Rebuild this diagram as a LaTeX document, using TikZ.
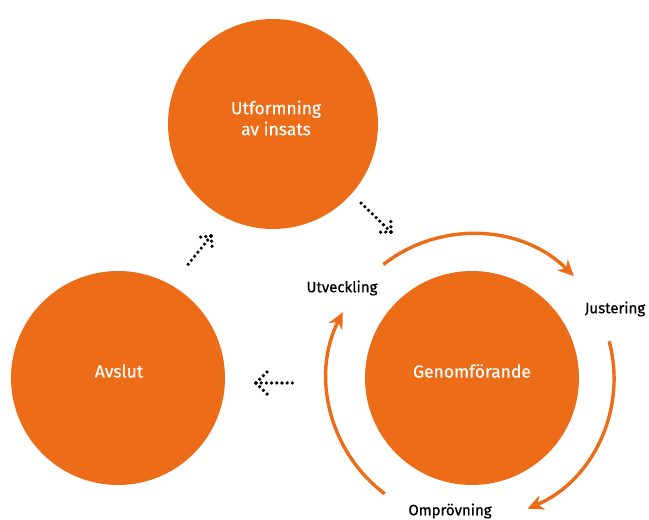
\documentclass[tikz,border=0pt]{standalone}
\usepackage{fontspec}
\setmainfont{Fira Sans}
\newfontfamily\labelfont{Fira Sans}[FakeBold=0.7]
\newfontfamily\phasefont{Fira Sans}[FakeBold=0.4]
\usetikzlibrary{arrows.meta,calc}
\definecolor{phase}{RGB}{236,108,23}
\begin{document}
\begin{tikzpicture}[x=1pt,y=1pt,
  phasecircle/.style={circle,fill=phase,draw=none,minimum size=#1,inner sep=0pt},
  phasetext/.style={text=white,font=\phasefont\fontsize{17.5}{21}\selectfont,align=center},
  steplabel/.style={text=black,font=\labelfont\fontsize{15}{17}\selectfont},
  cyc/.style={draw=phase,line width=3.4pt,-{Stealth[length=16pt,width=15pt,inset=5pt]}},
  dots/.style={draw=black,line width=3.6pt,line cap=round,dash pattern=on 0pt off 5.2pt}]
\useasboundingbox (0,0) rectangle (649,520);

% the three phases
\node[phasecircle=210] (u) at (273,396) {};
\node[phasecircle=214] (a) at (118,142) {};
\node[phasecircle=214] (g) at (472,142) {};
\node[phasetext] (ut) at (276,402) {Utformning\\av insats};
\node[phasetext] (at) at (119,149) {Avslut};
\node[phasetext] (gt) at (472,149) {Genomförande};

% the cycle inside the implementation phase
\draw[cyc] ($(g.center)+(128:144)$) arc[start angle=128,end angle=45,radius=144];
\draw[cyc] ($(g.center)+(15:142)$) arc[start angle=15,end angle=-67,radius=142];
\draw[cyc] ($(g.center)+(233:145)$) arc[start angle=233,end angle=153,radius=145];

\node[steplabel] (l1) at (342,232) {Utveckling};
\node[steplabel] (l2) at (615,211) {Justering};
\node[steplabel] (l3) at (450,9) {Omprövning};

% dotted arrows between the phases
\newcommand\dotarrow[2]{%
  \draw[dots] (#2) -- (#1);
  \draw[dots] (#2) -- ($(#2)!15.6pt!45:(#1)$);
  \draw[dots] (#2) -- ($(#2)!15.6pt!-45:(#1)$);}
\coordinate (ug1) at (361,317);
\coordinate (ug2) at (391,288);
\coordinate (ga1) at (296,137);
\coordinate (ga2) at (256,137);
\coordinate (au1) at (186,253);
\coordinate (au2) at (211,284);
\dotarrow{ug1}{ug2}
\dotarrow{ga1}{ga2}
\dotarrow{au1}{au2}
\end{tikzpicture}
\end{document}
